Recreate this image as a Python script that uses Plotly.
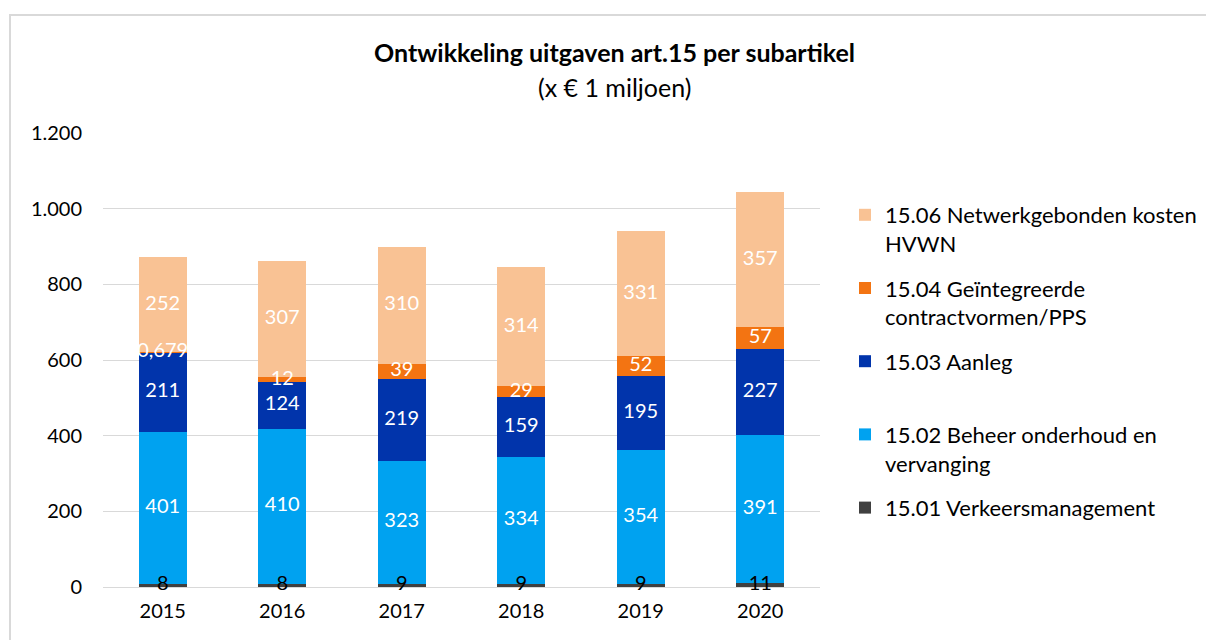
import plotly.graph_objects as go

years = ["2015", "2016", "2017", "2018", "2019", "2020"]
s1501 = [8, 8, 9, 9, 9, 11]
s1502 = [401, 410, 323, 334, 354, 391]
s1503 = [211, 124, 219, 159, 195, 227]
s1504 = [0.679, 12, 39, 29, 52, 57]
s1506 = [252, 307, 310, 314, 331, 357]

names = [
    "15.01 Verkeersmanagement<br>\u00a0",
    "15.02 Beheer onderhoud en<br>vervanging",
    "15.03 Aanleg<br>\u00a0",
    "15.04 Geïntegreerde<br>contractvormen/PPS",
    "15.06 Netwerkgebonden kosten<br>HVWN",
]
series = [s1501, s1502, s1503, s1504, s1506]
colors = ["#404040", "#00A2F0", "#0134AB", "#F37412", "#F9C294"]
textcolors = ["#000000", "#FFFFFF", "#FFFFFF", "#FFFFFF", "#FFFFFF"]

FONT = "Lato"

# layout geometry (pixels)
L, R, T, B = 103, 820, 133, 587
W, H = 1206, 640
PW = W - L  # paper width with r=0
PH = B - T


def px(x):
    return (x - L) / PW


def py(y):
    return (B - y) / PH


def fmt(v):
    return str(v).replace(".", ",")


fig = go.Figure()
base = [0.0] * len(years)
label_traces = []
for i, (nm, vals, c, tc) in enumerate(zip(names, series, colors, textcolors)):
    fig.add_trace(go.Bar(
        x=years, y=vals, name=nm, marker=dict(color=c, line=dict(width=0)),
        legendgroup=f"g{i}", legendrank=10 - i,
    ))
    mids = [b + v / 2 for b, v in zip(base, vals)]
    label_traces.append(go.Scatter(
        x=years, y=mids, mode="text", text=[fmt(v) for v in vals],
        textposition="middle center", showlegend=False, hoverinfo="skip",
        textfont=dict(color=tc, size=20, family=FONT), cliponaxis=False,
    ))
    base = [b + v for b, v in zip(base, vals)]
for t in label_traces:
    fig.add_trace(t)

fig.update_layout(
    width=W, height=H,
    barmode="stack", bargap=0.6,
    separators=",.",
    plot_bgcolor="white", paper_bgcolor="white",
    margin=dict(l=L, r=0, t=T, b=H - B),
    font=dict(family=FONT, size=19, color="#000000"),
    showlegend=True,
    legend=dict(
        x=px(845), xanchor="left", y=py(194), yanchor="top",
        traceorder="grouped", tracegroupgap=13,
        valign="top", font=dict(size=22, family=FONT, color="#000000"),
        bgcolor="rgba(0,0,0,0)",
    ),
    xaxis=dict(domain=[0, px(R)], showgrid=False, showline=False, ticks="",
               ticklabelstandoff=10,
               tickfont=dict(size=20, color="#000000")),
    yaxis=dict(range=[0, 1200], dtick=200, showgrid=True, gridcolor="#D9D9D9",
               gridwidth=1, zeroline=True, zerolinecolor="#D9D9D9", zerolinewidth=1,
               showline=False, ticks="", ticklabelstandoff=20,
               tickformat=",d", tickfont=dict(size=20, color="#000000")),
    annotations=[
        dict(text="<b>Ontwikkeling uitgaven art.15 per subartikel</b>",
             xref="paper", yref="paper", x=px(614), y=py(52),
             xanchor="center", yanchor="middle", showarrow=False,
             font=dict(size=25, family=FONT, color="#000000")),
        dict(text="(x € 1 miljoen)",
             xref="paper", yref="paper", x=px(614), y=py(87),
             xanchor="center", yanchor="middle", showarrow=False,
             font=dict(size=25, family=FONT, color="#000000")),
    ],
    shapes=[dict(type="rect", xref="paper", yref="paper",
                 x0=px(10), x1=px(1220), y0=py(660), y1=py(15),
                 line=dict(color="#D9D9D9", width=2), fillcolor="rgba(0,0,0,0)",
                 layer="below")],
)

fig.write_html("out.html", config={"displayModeBar": False},
               post_script="document.body.style.margin='0';")
